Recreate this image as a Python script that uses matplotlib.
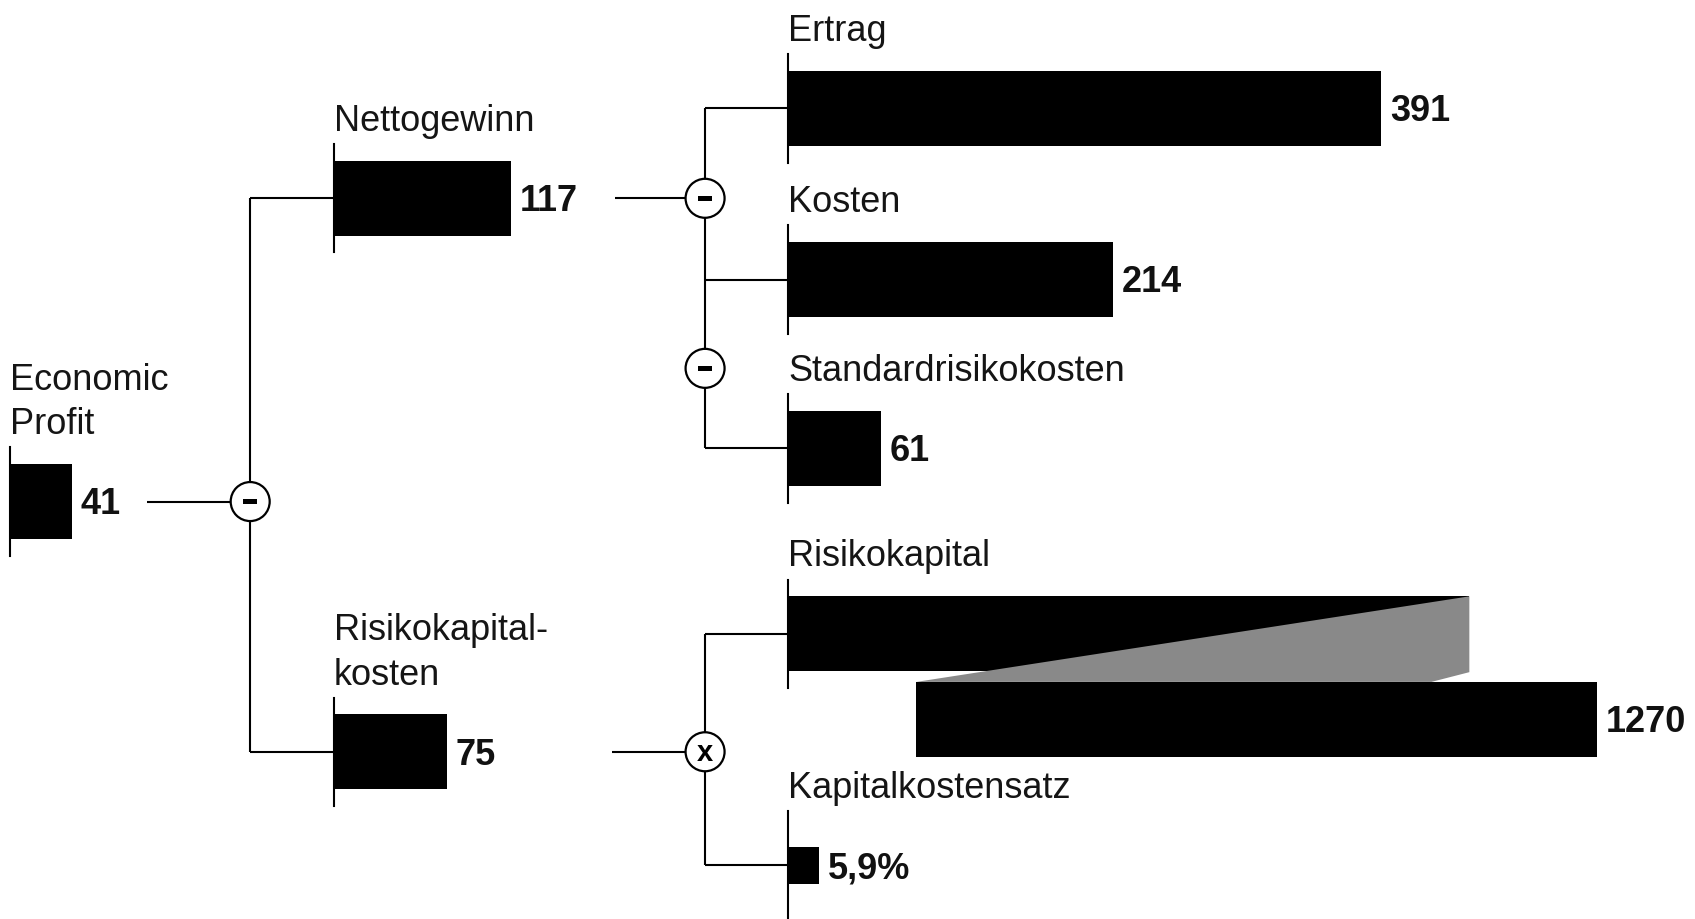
import matplotlib.pyplot as plt
from matplotlib.patches import Rectangle, Circle, Polygon

# values
names = ["Economic\nProfit", "Nettogewinn", "Risikokapital-\nkosten", "Ertrag", "Kosten",
         "Standardrisikokosten", "Risikokapital", "Kapitalkostensatz"]
values = [41, 117, 75, 391, 214, 61, 1270, 5.9]
value_labels = ["41", "117", "75", "391", "214", "61", "1270", "5,9%"]

# layout (canvas units, y downwards)
x0 = [9, 308, 308, 728, 728, 728, 728, 728]
yc = [464, 184, 695, 101, 259, 415, 586, 800]
px_per_unit = [1.4, 1.4, 1.4, 1.4, 1.4, 1.4, 0.495, 4.75]
bar_h = [69, 69, 69, 69, 69, 69, 69, 35]
risk_shift = (118, 79)  # offset of the repeated Risikokapital bar

ops = [(231, 464, "-"), (651, 184, "-"), (651, 341, "-"), (651, 695, "x")]
lines = [
    ((231, 231), (184, 695)), ((231, 309), (184, 184)), ((231, 309), (695, 695)),
    ((136, 231), (464, 464)),
    ((568, 651), (184, 184)), ((651, 651), (101, 415)),
    ((651, 729), (101, 101)), ((651, 729), (259, 259)), ((651, 729), (415, 415)),
    ((565, 651), (695, 695)), ((651, 651), (586, 800)),
    ((651, 729), (586, 586)), ((651, 729), (800, 800)),
]

W, H = 1565, 849.4
fig = plt.figure(figsize=(16.95, 9.2), dpi=100)
ax = fig.add_axes([0, 0, 1, 1])
ax.set_xlim(0, W)
ax.set_ylim(H, 0)
ax.axis("off")

LABEL_FONT = dict(family="Liberation Sans", fontsize=26, color="#151515")
VALUE_FONT = dict(family="Liberation Sans", fontsize=26, fontweight="bold", color="#111111")

for (xs, ys) in lines:
    ax.plot(xs, ys, color="black", lw=1.5, solid_capstyle="butt", zorder=1)

for i, name in enumerate(names):
    length = values[i] * px_per_unit[i]
    top = yc[i] - bar_h[i] / 2
    ax.add_patch(Rectangle((x0[i], top), length, bar_h[i], color="black", lw=0, zorder=2))
    # axis tick at the bar origin
    ax.plot([x0[i], x0[i]], [yc[i] - 50, yc[i] + 50], color="black", lw=1.5, zorder=3)
    # category label above the bar
    parts = name.split("\n")
    for k, part in enumerate(parts):
        ax.text(x0[i], yc[i] - 63 - 41 * (len(parts) - 1 - k), part, ha="left", va="baseline", **LABEL_FONT)
    end_x, val_y = x0[i] + length, yc[i]
    if name == "Risikokapital":
        dx, dy = risk_shift
        bx, by = x0[i] + dx, top + dy
        ax.add_patch(Rectangle((bx, by), length, bar_h[i], color="black", lw=0, zorder=2))
        ax.add_patch(Polygon([(bx, by), (x0[i] + length, top), (x0[i] + length, top + bar_h[i] + 1),
                              (x0[i] + length - 35, by)], closed=True, color="#898989", lw=0, zorder=3))
        end_x, val_y = bx + length, yc[i] + dy
    ax.text(end_x + 8, val_y + 11, value_labels[i], ha="left", va="baseline", **VALUE_FONT)

for (cx, cy, sym) in ops:
    ax.add_patch(Circle((cx, cy), 18, facecolor="white", edgecolor="black", lw=1.6, zorder=4))
    if sym == "-":
        ax.add_patch(Rectangle((cx - 6.5, cy - 2.5), 13, 5, color="black", lw=0, zorder=5))
    else:
        ax.text(cx, cy + 8, "x", ha="center", va="baseline", family="Liberation Sans",
                fontsize=21, fontweight="bold", zorder=5)

fig.savefig("out.png", dpi=100, facecolor="white")
